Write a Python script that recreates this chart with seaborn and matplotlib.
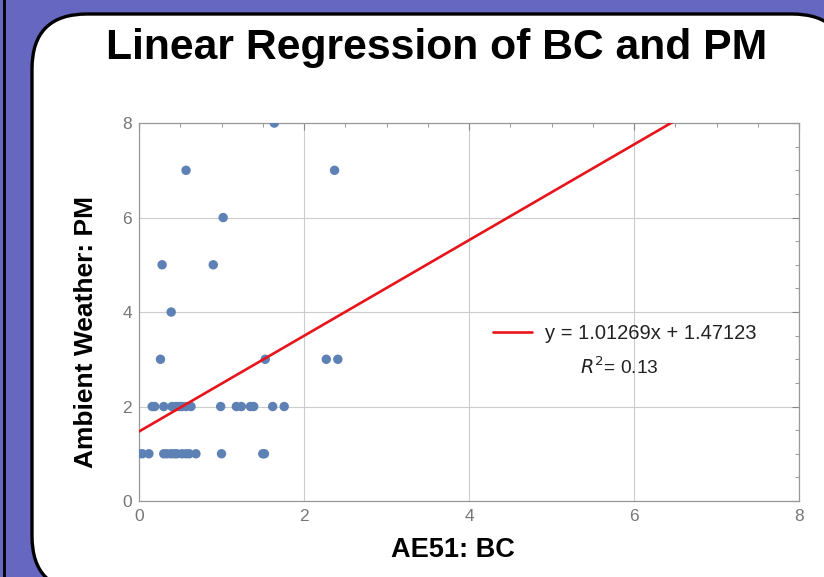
import matplotlib
matplotlib.use("Agg")
import matplotlib.pyplot as plt
import seaborn as sns
import pandas as pd
from matplotlib.patches import FancyBboxPatch
from matplotlib.lines import Line2D

# scatter data
bc = [1.64,
      0.57, 2.37,
      1.02,
      0.28, 0.90,
      0.39,
      0.26, 1.53, 2.27, 2.41,
      0.16, 0.19, 0.30, 0.40, 0.45, 0.49, 0.52, 0.57, 0.63, 0.99, 1.18, 1.24,
      1.35, 1.39, 1.62, 1.76,
      0.00, 0.04, 0.12, 0.30, 0.34, 0.39, 0.43, 0.46, 0.52, 0.57, 0.61, 0.69,
      1.00, 1.50, 1.52]
pm = [8,
      7, 7,
      6,
      5, 5,
      4,
      3, 3, 3, 3,
      2, 2, 2, 2, 2, 2, 2, 2, 2, 2, 2, 2,
      2, 2, 2, 2,
      1, 1, 1, 1, 1, 1, 1, 1, 1, 1, 1, 1,
      1, 1, 1]

slope = 1.01269
intercept = 1.47123
r_squared = 0.13
ticks = [0, 2, 4, 6, 8]

df = pd.DataFrame({"BC": bc, "PM": pm})

sns.set_style("white")
plt.rcParams['font.family'] = ['Liberation Sans', 'DejaVu Sans']

fig = plt.figure(figsize=(8.24, 5.77), dpi=100)
fig.patch.set_facecolor('#6567c1')

# white rounded card behind the chart
card = FancyBboxPatch((32, -14), 815, 577, boxstyle="round,pad=0,rounding_size=55",
                      transform=None, facecolor='white', edgecolor='black',
                      linewidth=2.4, zorder=-2)
fig.patches.append(card)
fig.lines.append(Line2D([4, 4], [0, 577], transform=None, color='black',
                        linewidth=2, zorder=-1))

ax = fig.add_axes([0.1687, 0.1317, 0.801, 0.655])
ax.set_facecolor('none')

sns.scatterplot(data=df, x="BC", y="PM", ax=ax, color='#5e81b5', s=46,
                edgecolor='none', zorder=3)

xs = [0, 8]
ax.plot(xs, [slope * x + intercept for x in xs], color='#e8141b', linewidth=1.9,
        zorder=4, label=f"y = {slope}x + {intercept}")

ax.set_xlim(0, 8)
ax.set_ylim(0, 8)
ax.set_xticks(ticks)
ax.set_yticks(ticks)
ax.set_xticks([t / 2 for t in range(17)], minor=True)
ax.set_yticks([t / 2 for t in range(17)], minor=True)
ax.tick_params(which='both', direction='in', top=True, right=True,
               colors='#888888', labelcolor='#777777', labelsize=12.5)
ax.tick_params(which='major', length=5, width=0.8)
ax.tick_params(which='minor', length=3, width=0.6)
ax.tick_params(axis='x', which='major', pad=6)
ax.tick_params(axis='y', which='major', pad=5)
ax.grid(True, which='major', color='#cccccc', linewidth=0.8)
for sp in ax.spines.values():
    sp.set_color('#999999')
    sp.set_linewidth(0.9)

ax.set_xlabel("AE51: BC", fontsize=19.5, fontweight='bold', color='black')
ax.xaxis.set_label_coords(0.475, -0.095)
ax.set_ylabel("Ambient Weather: PM", fontsize=19, fontweight='bold', color='black')
ax.yaxis.set_label_coords(-0.062, 0.447)

leg = ax.legend(loc='center left', bbox_to_anchor=(0.509, 0.444), frameon=False,
                fontsize=14.5, handlelength=1.95, handletextpad=0.65)
ax.text(0.727, 0.355, f"$R^2$= {r_squared}", transform=ax.transAxes,
        fontsize=13.8, ha='center', va='center', color='#222222')
for t in leg.get_texts():
    t.set_color('#222222')

fig.text(0.53, 0.917, "Linear Regression of BC and PM", fontsize=30.7,
         fontweight='bold', ha='center', va='center', color='black')

fig.savefig("out.png", dpi=100, facecolor=fig.get_facecolor())
